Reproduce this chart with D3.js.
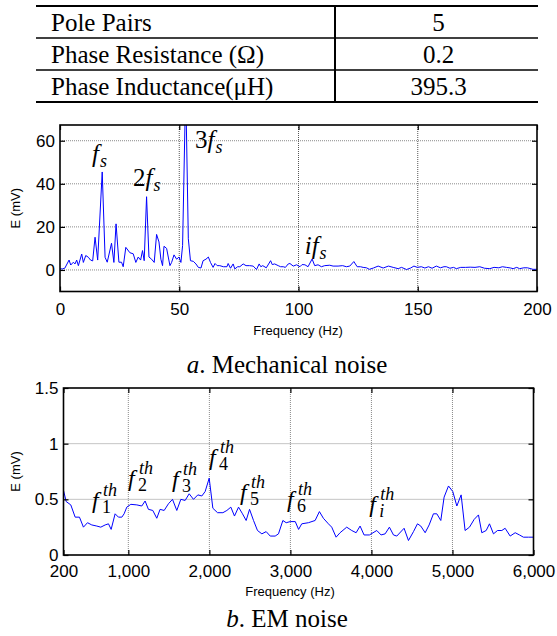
<!DOCTYPE html>
<html>
<head>
<meta charset="utf-8">
<script src="https://cdn.jsdelivr.net/npm/d3@7"></script>
<style>
  body { margin: 0; background: #fff; }
</style>
</head>
<body>
<div id="figure"></div>
<script>
const SERIF = "'Liberation Serif', 'Times New Roman', serif"
const SANS = "'Liberation Sans', Arial, sans-serif"

// Tableau des paramètres
const tableLabels = ["Pole Pairs", "Phase Resistance (\u03A9)", "Phase Inductance(\u03BCH)"]
const tableValues = ["5", "0.2", "395.3"]

// a. Mechanical noise (Hz, mV)
const mechFreq = [0, 1, 2, 3.8, 4.5, 5.6, 6.3, 7, 7.7, 9.1, 9.8, 10.8, 11.9, 12.8, 13.7, 14.7, 15.8, 17.7, 18.9, 19.8,
  21.6, 22.6, 23.5, 24.7, 25.8, 26.5, 27.6, 29.3, 30.7, 31.8, 32.8, 33.8, 34.6, 35.3, 36.3, 37.3, 38.4, 39.5, 40.5, 41.5,
  42.3, 43, 43.6, 44.7, 45.4, 46.1, 46.8, 47.8, 48.9, 49.9, 50.7, 51.4, 52.7, 53.8, 54.7, 55.9, 57, 58, 59.1, 60,
  61.2, 62.2, 63.1, 64.2, 65, 65.9, 67, 68.5, 70, 70.5, 71.5, 72.6, 73.3, 74.5, 75.4, 76.8, 78, 79.5, 81, 82.4,
  83.5, 84.2, 85, 86.5, 88.3, 89, 90, 91.5, 92.5, 93.6, 94.5, 95.7, 96.4, 97.8, 99.2, 100.6, 101.5, 102.7, 104, 105.7,
  106.8, 108.2, 109.6, 111, 113.1, 114.5, 116.6, 118.5, 120.1, 121.5, 123.2, 124.6, 126, 127.1, 128.5, 129.7, 131.4, 133.4, 135.5, 137.7,
  139.7, 141.8, 143.2, 145.3, 147, 148.4, 149.8, 151.5, 153, 154.5, 156, 157.8, 159.5, 161, 162, 163.5, 165, 166.2, 168, 170,
  172, 174, 176, 178, 180.2, 182, 184, 185.5, 187.2, 189, 190, 191.5, 192.7, 194.5, 196, 198.3, 200]
const mechE = [0.5, 0.5, 0.8, 4.6, 2.3, 3.6, 2.8, 4.6, 2, 7.4, 3.5, 6.7, 5.9, 4.6, 4.2, 15.2, 4.6, 45.5, 5.9, 3.6,
  12.4, 3.5, 21.4, 3.6, 3.6, 1.5, 10.5, 8, 7.5, 3.5, 6, 4.6, 9, 4.3, 34, 6, 5, 3.5, 16.5, 13,
  5, 2, 11, 10, 6, 2, 3.5, 7, 5, 6, 3.5, 11.3, 85, 14.5, 4.3, 4, 2.8, 1.2, 0.9, 4.3,
  5, 6, 3.5, 1.2, 3, 2, 2, 1.5, 1.5, 3, 0.8, 2.8, 0.5, 1.5, 1.5, 2.8, 2, 2, 1.8, 0.2,
  2.8, 1.5, 2, 1, 4.3, 2.5, 2.8, 2, 1.5, 1.5, 1.2, 2.8, 3, 1.8, 2.4, 1.5, 2.5, 2.4, 1.5, 5.1,
  2, 2.4, 1.5, 2, 2.2, 1.8, 1.8, 2, 1.5, 1.8, 3.9, 1.5, 1.5, 1.2, 1, 0.3, 0.9, 1.8, 0.9, 1.8,
  1.2, 0.6, 1.2, 0.2, 0.9, 1.8, 1.2, 1.5, 0.9, 1.5, 0.8, 1.8, 1, 1.5, 1.5, 0.8, 1.2, 0.6, 1.2, 1.2,
  1.3, 1.2, 1.5, 0.8, 0.6, 1.2, 1, 1.5, 1.2, 0.9, 0.6, 1.2, 0.6, 1, 1, 0.3, 0.3]
const mechXTicks = [0, 50, 100, 150, 200]
const mechYTicks = [0, 20, 40, 60]

// b. EM noise (Hz, mV)
const emFreq = [200, 233, 290, 344, 397, 446, 496, 549, 611, 660, 714, 755, 788, 837, 878, 920, 948, 981, 1031, 1105,
  1166, 1207, 1248, 1302, 1351, 1392, 1442, 1495, 1545, 1598, 1648, 1701, 1751, 1804, 1858, 1907, 1948, 1998, 2043, 2101,
  2167, 2216, 2265, 2310, 2360, 2409, 2454, 2496, 2545, 2594, 2648, 2701, 2751, 2812, 2853, 2907, 2948, 2998, 3060, 3101,
  3140, 3222, 3305, 3358, 3407, 3469, 3510, 3564, 3613, 3695, 3757, 3811, 3860, 3909, 3975, 4066, 4119, 4169, 4222, 4272,
  4313, 4403, 4457, 4519, 4568, 4609, 4663, 4712, 4765, 4807, 4856, 4897, 4951, 5004, 5054, 5107, 5156, 5210, 5268, 5321,
  5362, 5416, 5457, 5506, 5556, 5609, 5650, 5712, 5774, 5827, 5876, 5938, 6000]
const emE = [0.58, 0.48, 0.45, 0.34, 0.34, 0.25, 0.29, 0.27, 0.26, 0.25, 0.27, 0.28, 0.23, 0.37, 0.34, 0.34, 0.37, 0.43, 0.455, 0.45,
  0.44, 0.485, 0.41, 0.40, 0.33, 0.41, 0.40, 0.46, 0.50, 0.40, 0.50, 0.49, 0.55, 0.50, 0.54, 0.53, 0.57, 0.69, 0.42, 0.38,
  0.38, 0.40, 0.43, 0.35, 0.43, 0.37, 0.31, 0.41, 0.31, 0.22, 0.19, 0.21, 0.17, 0.17, 0.19, 0.31, 0.29, 0.30, 0.30, 0.23,
  0.28, 0.29, 0.31, 0.39, 0.33, 0.28, 0.25, 0.16, 0.20, 0.25, 0.22, 0.20, 0.26, 0.18, 0.18, 0.22, 0.18, 0.19, 0.25, 0.18,
  0.17, 0.24, 0.13, 0.21, 0.28, 0.26, 0.20, 0.27, 0.37, 0.37, 0.31, 0.52, 0.62, 0.57, 0.44, 0.54, 0.22, 0.25, 0.32, 0.36,
  0.20, 0.22, 0.28, 0.19, 0.22, 0.22, 0.24, 0.17, 0.20, 0.18, 0.16, 0.16, 0.16]
const emXTicks = [200, 1000, 2000, 3000, 4000, 5000, 6000]
const emYTicks = [0, 0.5, 1, 1.5]

// Annotations (position en unités des données)
const mechNotes = [
  { pre: "", sub: "s", f: 13.4, e: 50.1 },
  { pre: "2", sub: "s", f: 30.6, e: 38.9 },
  { pre: "3", sub: "s", f: 56.6, e: 56.6 },
  { pre: "i", sub: "s", f: 102.6, e: 7.6, italicPre: true }
]
const emNotes = [
  { sub: "1", f: 552, e: 0.423 },
  { sub: "2", f: 996, e: 0.62 },
  { sub: "3", f: 1540, e: 0.61 },
  { sub: "4", f: 1996, e: 0.809 },
  { sub: "5", f: 2379, e: 0.494 },
  { sub: "6", f: 2958, e: 0.431 },
  { sub: "i", f: 3972, e: 0.386, italicSub: true }
]

const W = 557, H = 636

let svg = d3.select("#figure")
  .append("svg")
  .attr("width", W)
  .attr("height", H)

// ---- Tableau ----
let tbl = { left: 36, right: 538, mid: 335, top: 6, row: 32 }
let tg = svg.append("g")
tableLabels.forEach((lab, i) => {
  let y0 = tbl.top + i * tbl.row
  tg.append("text").attr("x", tbl.left + 15).attr("y", y0 + 24.5)
    .attr("font-family", SERIF).attr("font-size", 25).text(lab)
  tg.append("text").attr("x", (tbl.mid + tbl.right) / 2 + 2).attr("y", y0 + 24.5)
    .attr("font-family", SERIF).attr("font-size", 25).attr("text-anchor", "middle").text(tableValues[i])
})
d3.range(tableLabels.length + 1).forEach(i => {
  let y = tbl.top + i * tbl.row
  tg.append("line").attr("x1", tbl.left).attr("x2", tbl.right)
    .attr("y1", y).attr("y2", y)
    .attr("stroke", "#000").attr("stroke-width", (i == 0 || i == tableLabels.length) ? 2 : 1.6)
})
tg.append("line").attr("x1", tbl.mid).attr("x2", tbl.mid)
  .attr("y1", tbl.top).attr("y2", tbl.top + tableLabels.length * tbl.row)
  .attr("stroke", "#000").attr("stroke-width", 2)

// ---- Un panneau de spectre ----
function drawPanel(p) {
  let x = d3.scaleLinear().domain(p.xDomain).range([p.left, p.right])
  let y = d3.scaleLinear().domain(p.yDomain).range([p.bottom, p.top])
  let g = svg.append("g")

  // grille
  g.append("g").selectAll("line")
    .data(p.xTicks.filter(t => t > p.xDomain[0] && t < p.xDomain[1]))
    .join("line")
    .attr("x1", d => x(d)).attr("x2", d => x(d))
    .attr("y1", p.top).attr("y2", p.bottom)
    .attr("stroke", p.vGrid).attr("stroke-width", 1).attr("stroke-dasharray", "1,1")
  g.append("g").selectAll("line")
    .data(p.yTicks.filter(t => t > p.yDomain[0] && t < p.yDomain[1]))
    .join("line")
    .attr("x1", p.left).attr("x2", p.right)
    .attr("y1", d => y(d)).attr("y2", d => y(d))
    .attr("stroke", "#8a8a8a").attr("stroke-width", 1).attr("stroke-dasharray", "1,1")

  // courbe
  let clipId = "clip" + p.name
  svg.append("clipPath").attr("id", clipId)
    .append("rect").attr("x", p.left).attr("y", p.top)
    .attr("width", p.right - p.left).attr("height", p.bottom - p.top)
  let pts = p.freq.map((f, i) => [f, p.values[i]])
  g.append("path")
    .datum(pts)
    .attr("clip-path", "url(#" + clipId + ")")
    .attr("fill", "none")
    .attr("stroke", "#0000ff")
    .attr("stroke-width", 1)
    .attr("d", d3.line().x(d => x(d[0])).y(d => y(d[1])))

  // axes (ticks vers l'intérieur, comme Matlab)
  let tl = 5
  g.append("g").attr("transform", "translate(0," + p.bottom + ")")
    .call(d3.axisBottom(x).tickValues(p.xTicks).tickSize(-tl).tickPadding(p.xPad).tickFormat(p.xFormat))
  g.append("g").attr("transform", "translate(0," + p.top + ")")
    .call(d3.axisTop(x).tickValues(p.xTicks).tickSize(-tl).tickFormat(""))
  g.append("g").attr("transform", "translate(" + p.left + ",0)")
    .call(d3.axisLeft(y).tickValues(p.yTicks).tickSize(-tl).tickPadding(5).tickFormat(p.yFormat))
  g.append("g").attr("transform", "translate(" + p.right + ",0)")
    .call(d3.axisRight(y).tickValues(p.yTicks).tickSize(-tl).tickFormat(""))
  g.selectAll(".domain").remove()
  g.selectAll(".tick line").attr("stroke", "#000").attr("stroke-width", 1.2)
  g.selectAll(".tick text")
    .attr("font-family", SANS)
    .attr("font-size", 17).attr("fill", "#000")

  // cadre
  g.append("rect").attr("x", p.left).attr("y", p.top)
    .attr("width", p.right - p.left).attr("height", p.bottom - p.top)
    .attr("fill", "none").attr("stroke", "#000").attr("stroke-width", 1.6)

  // titres d'axes
  g.append("text").attr("font-family", SANS)
    .attr("x", p.xLabelX).attr("y", p.bottom + p.xLabelDy)
    .attr("text-anchor", "middle").attr("font-size", 13).text("Frequency (Hz)")
  g.append("text").attr("font-family", SANS)
    .attr("transform", "translate(20," + (p.top + p.bottom) / 2 + ") rotate(-90)")
    .attr("text-anchor", "middle").attr("font-size", 13).text("E (mV)")

  // légende sous le graphe
  let cap = g.append("text").attr("font-family", SERIF)
    .attr("x", 287).attr("y", p.captionY)
    .attr("text-anchor", "middle").attr("font-size", 25)
  cap.append("tspan").attr("font-style", "italic").text(p.captionLetter)
  cap.append("tspan").text(". " + p.caption)

  return { x: x, y: y, g: g }
}

// ---- a. Mechanical noise ----
let mech = drawPanel({
  name: "mech", left: 60, right: 537, top: 125, bottom: 291.5,
  xDomain: [0, 200], yDomain: [-10, 67.3],
  xTicks: mechXTicks, yTicks: mechYTicks,
  xFormat: d3.format("d"), yFormat: d3.format("d"), xPad: 11,
  freq: mechFreq, values: mechE, vGrid: "#555",
  xLabelX: 298, xLabelDy: 43, captionY: 373,
  captionLetter: "a", caption: "Mechanical noise"
})
mechNotes.forEach(n => {
  let t = mech.g.append("text").attr("font-family", SERIF)
    .attr("x", mech.x(n.f)).attr("y", mech.y(n.e)).attr("font-size", 25)
  if (n.pre) t.append("tspan").attr("font-style", n.italicPre ? "italic" : "normal").text(n.pre)
  t.append("tspan").attr("font-style", "italic").text("f")
  t.append("tspan").attr("font-style", "italic").attr("font-size", 18).attr("dx", 1).attr("dy", 5).text(n.sub)
})

// ---- b. EM noise ----
let em = drawPanel({
  name: "em", left: 63.5, right: 533.5, top: 388, bottom: 555,
  xDomain: [200, 6000], yDomain: [0, 1.5],
  xTicks: emXTicks, yTicks: emYTicks,
  xFormat: d3.format(","), yFormat: d => d3.format("")(d), xPad: 10,
  freq: emFreq, values: emE, vGrid: "#8a8a8a",
  xLabelX: 290, xLabelDy: 41, captionY: 627,
  captionLetter: "b", caption: "EM noise"
})
emNotes.forEach(n => {
  let x0 = em.x(n.f), y0 = em.y(n.e)
  let g = em.g.append("g")
  g.append("text").attr("x", x0).attr("y", y0).attr("font-size", 24)
    .attr("font-family", SERIF).attr("font-style", "italic").text("f")
  g.append("text").attr("x", x0 + 10).attr("y", y0 + 5).attr("font-size", 18)
    .attr("font-family", SERIF).attr("font-style", n.italicSub ? "italic" : "normal").text(n.sub)
  g.append("text").attr("x", x0 + 11).attr("y", y0 - 12).attr("font-size", 18)
    .attr("font-family", SERIF).attr("font-style", "italic").text("th")
})
</script>
</body>
</html>
